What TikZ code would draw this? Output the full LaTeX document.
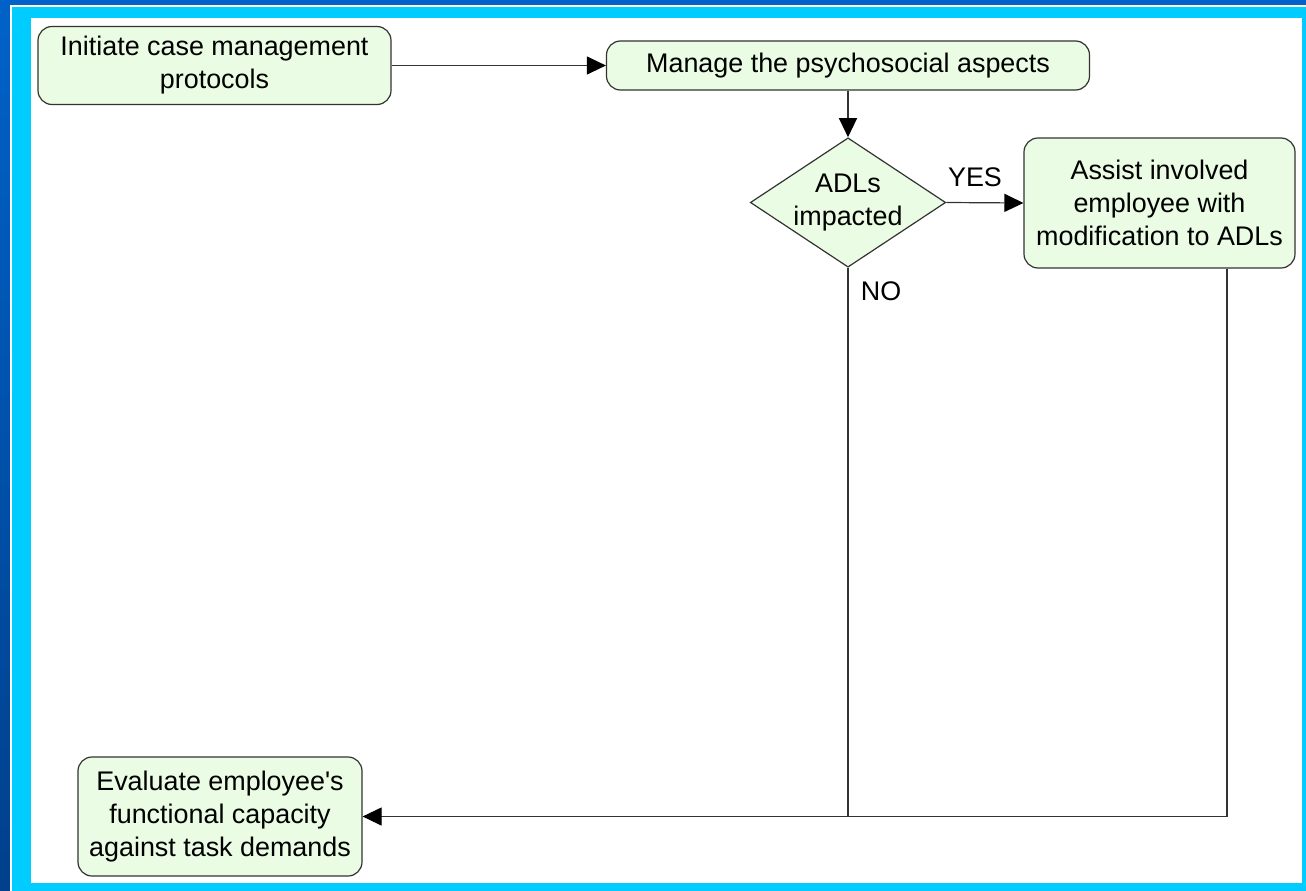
\documentclass[tikz,border=0pt]{standalone}
\usepackage{fontspec}
\setmainfont{Liberation Sans}
\usetikzlibrary{shapes.geometric,arrows.meta}
\definecolor{slideblue}{HTML}{0062C8}
\definecolor{slidedark}{HTML}{00408C}
\definecolor{slidecyan}{HTML}{00CCFF}
\definecolor{boxgreen}{HTML}{EAFCE3}
\definecolor{edgegray}{HTML}{333333}
\begin{document}
\begin{tikzpicture}[x=1pt,y=-1pt,
  txt/.style={font=\fontsize{26.9}{33}\selectfont,align=center},
  stepbox/.style={txt,draw=edgegray,fill=boxgreen,line width=1.2pt,rounded corners=14pt,inner sep=0pt},
  decision/.style={txt,draw=edgegray,fill=boxgreen,line width=1.2pt,shape=diamond,aspect=1.51,inner sep=0pt},
  flow/.style={draw=edgegray,line width=1.2pt},
  tip/.style={-{Triangle[length=19pt,width=18pt,black]}}]
\useasboundingbox (0,0) rectangle (1306,891);
\shade[top color=slideblue,bottom color=slidedark] (0,0) rectangle (1306,891);
\fill[white] (9.5,5.5) rectangle (1306,891);
\fill[slidecyan] (11.5,7.5) rectangle (1306,891);
\fill[white] (31,18) rectangle (1302,883);
\node[stepbox,minimum width=353pt,minimum height=78pt] (init) at (214.5,65.5) {Initiate case management\\protocols};
\node[stepbox,minimum width=483pt,minimum height=49pt] (manage) at (848,65.5) {Manage the psychosocial aspects};
\node[decision,minimum width=195pt,minimum height=129pt] (adl) at (848,202.5) {ADLs\\impacted};
\node[stepbox,minimum width=271pt,minimum height=130pt] (assist) at (1159.5,203) {Assist involved\\employee with\\modification to ADLs};
\node[stepbox,minimum width=284pt,minimum height=119pt] (eval) at (220,816.5) {Evaluate employee\textquotesingle s\\functional capacity\\against task demands};
\node[txt] (yes) at (975,177) {YES};
\node[txt] (no) at (881,291) {NO};
\coordinate (asout) at ([xshift=67.5pt]assist.south);
\coordinate (join) at (adl.south |- eval.east);
\draw[flow,tip] (init.east) -- (manage.west);
\draw[flow,tip] (manage.south) -- (adl.north);
\draw[flow,tip] (adl.east) -- (assist.west);
\draw[flow,tip] (adl.south) -- (join) -- (eval.east);
\draw[flow] (asout) -- (asout |- join) -- (join);
\end{tikzpicture}
\end{document}
